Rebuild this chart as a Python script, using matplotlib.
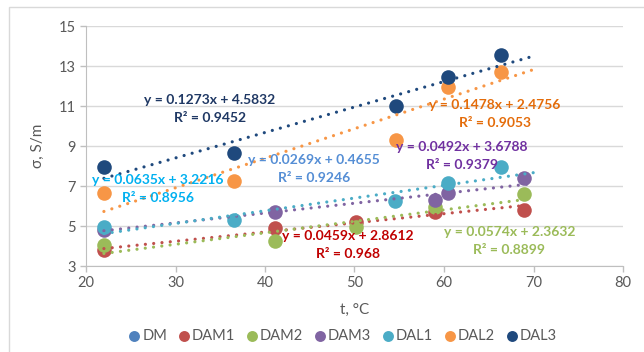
import numpy as np
import matplotlib.pyplot as plt
from matplotlib.patches import Rectangle

plt.rcParams['font.family'] = ['Lato', 'DejaVu Sans']

# series names and marker colours
names = ['DM', 'DAM1', 'DAM2', 'DAM3', 'DAL1', 'DAL2', 'DAL3']
colors = ['#4F81BD', '#C0504D', '#9BBB59', '#8064A2', '#4BACC6', '#F79646', '#1F497D']
label_colors = ['#558ED5', '#C00000', '#9BBB59', '#7030A0', '#00B0F0', '#E46C0A', '#1F3864']

# measured points (t, sigma)
t_dm = [22, 36.5, 41, 50.2, 54.5, 59, 60.5, 66.4, 69]
s_dm = [1.0, 1.5, 1.6, 1.8, 2.0, 2.1, 2.1, 2.3, 2.3]
t_dam1 = [22, 41.1, 50.2, 59, 68.9]
s_dam1 = [3.8, 4.88, 5.22, 5.72, 5.8]
t_dam2 = [22, 41.1, 50.2, 59, 68.9]
s_dam2 = [4.05, 4.27, 4.97, 5.97, 6.6]
t_dam3 = [22, 41.1, 59, 60.5, 68.9]
s_dam3 = [4.8, 5.72, 6.3, 6.63, 7.38]
t_dal1 = [22, 36.5, 54.5, 60.5, 66.4]
s_dal1 = [4.97, 5.3, 6.27, 7.13, 7.97]
t_dal2 = [22, 36.5, 54.6, 60.4, 66.4]
s_dal2 = [6.63, 7.27, 9.3, 11.93, 12.72]
t_dal3 = [22, 36.5, 54.6, 60.4, 66.4]
s_dal3 = [7.93, 8.63, 11.0, 12.47, 13.55]

ts = [t_dm, t_dam1, t_dam2, t_dam3, t_dal1, t_dal2, t_dal3]
ss = [s_dm, s_dam1, s_dam2, s_dam3, s_dal1, s_dal2, s_dal3]

# linear trend coefficients
slopes = [0.0269, 0.0459, 0.0574, 0.0492, 0.0635, 0.1478, 0.1273]
intercepts = [0.4655, 2.8612, 2.3632, 3.6788, 3.2216, 2.4756, 4.5832]
r2 = [0.9246, 0.968, 0.8899, 0.9379, 0.8956, 0.9053, 0.9452]

# where each equation sits (t, sigma of the first line)
lab_pos = [(45.5, 8.3), (49.3, 4.5), (67.3, 4.7), (62.0, 8.95),
           (28.0, 7.3), (65.7, 11.05), (33.85, 11.3)]

fig = plt.figure(figsize=(6.44, 3.52), dpi=100)
ax = fig.add_axes([86/644, 1-266/352, (623-86)/644, 240/352])

fig.patches.append(Rectangle((9/644, -0.1), 1.2, 1-7/352+0.1, transform=fig.transFigure,
                             fill=False, edgecolor='#D9D9D9', linewidth=1))

tt = np.array([22, 70])
for i in range(len(names)):
    ax.scatter(ts[i], ss[i], s=110, color=colors[i], zorder=3, label=names[i],
               linewidths=0, clip_on=True)
    ax.plot(tt, slopes[i]*tt + intercepts[i], color=colors[i], linewidth=2.3,
            linestyle=(0, (0.01, 2.6)), dash_capstyle='round', zorder=4)

for i in range(len(names)):
    x, y = lab_pos[i]
    ax.text(x, y, f'y = {slopes[i]:g}x + {intercepts[i]:g}', color=label_colors[i],
            fontsize=10, fontweight='bold', ha='center', va='center', zorder=6)
    ax.text(x, y-0.9, f'R² = {r2[i]:g}', color=label_colors[i],
            fontsize=10, fontweight='bold', ha='center', va='center', zorder=6)

ax.set_xlim(20, 80)
ax.set_ylim(3, 15)
ax.set_xticks(range(20, 81, 10))
ax.set_yticks(range(3, 16, 2))
ax.grid(axis='y', color='#D9D9D9', linewidth=1)
ax.set_axisbelow(True)
for sp in ['top', 'right']:
    ax.spines[sp].set_visible(False)
for sp in ['left', 'bottom']:
    ax.spines[sp].set_color('#BFBFBF')
ax.tick_params(colors='#BFBFBF', labelcolor='#595959', labelsize=10.5, length=4, width=1)
ax.set_xlabel('t, °C', fontsize=11, color='#595959', labelpad=9)
ax.set_ylabel('σ, S/m', fontsize=11, color='#595959', labelpad=10)

fig.legend(loc='center', bbox_to_anchor=(343/644, 1-336/352), ncol=7, frameon=False,
           fontsize=10.5, handlelength=0.7, handletextpad=0.2, columnspacing=0.8,
           markerscale=0.75, labelcolor='#595959', borderaxespad=0)

plt.savefig('out.png', dpi=100)
